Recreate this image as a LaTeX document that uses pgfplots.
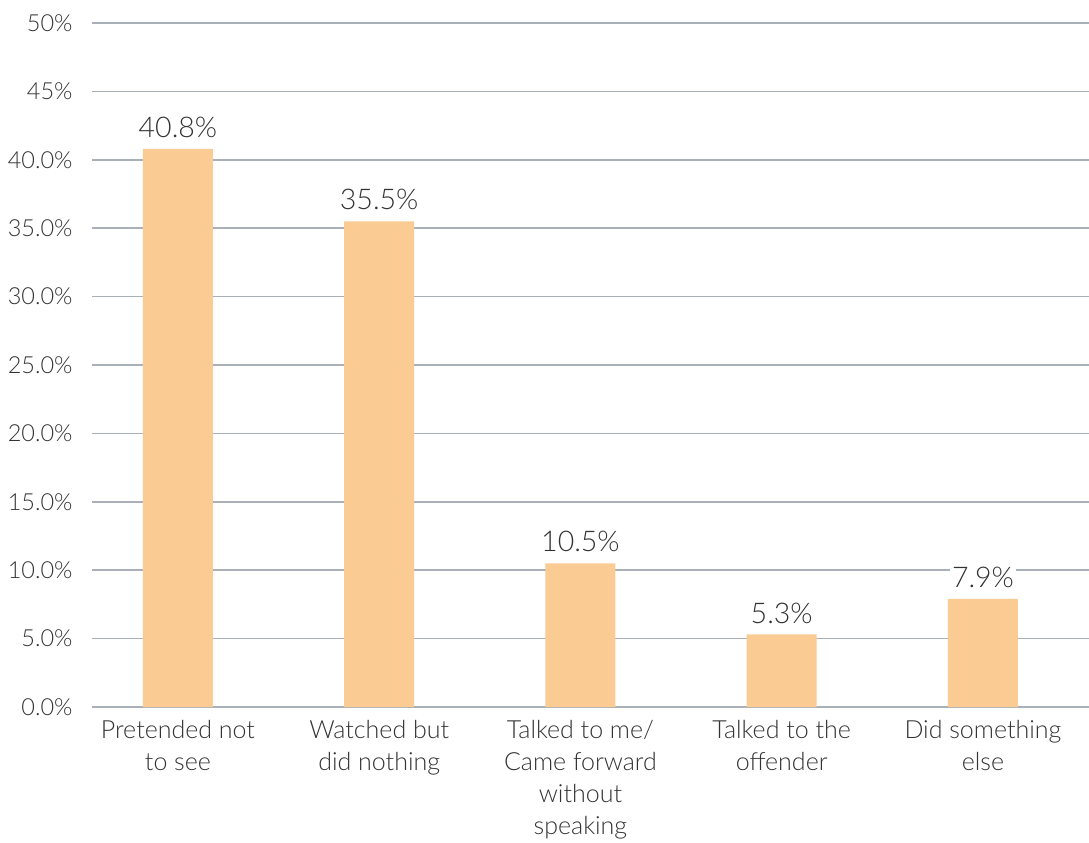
\documentclass[border=0pt]{standalone}
\usepackage{pgfplots}
\pgfplotsset{compat=1.18}
\usepackage{fontspec}
\setmainfont{Lato Light}
\definecolor{barfill}{HTML}{FBCB94}
\definecolor{gridgrey}{HTML}{A9B0B8}
\definecolor{txt}{HTML}{333333}
\begin{document}
\begin{tikzpicture}
\path[use as bounding box] (-92bp,-136bp) rectangle (997bp,707bp);
\begin{axis}[
  scale only axis,
  width=997bp, height=684bp,
  xmin=-0.427, xmax=4.527,
  ymin=0, ymax=50,
  ytick={0,5,...,50},
  yticklabels={0.0\%,5.0\%,10.0\%,15.0\%,20.0\%,25.0\%,30.0\%,35.0\%,40.0\%,45\%,50\%},
  xtick={0,1,2,3,4},
  xticklabels={Pretended not\\to see, Watched but\\did nothing, Talked to me/\\Came forward\\without\\speaking, Talked to the\\offender, Did something\\else},
  major tick length=0pt,
  axis line style={draw=none},
  ymajorgrids,
  grid style={gridgrey, line width=1.5bp},
  yticklabel style={font=\fontsize{23.5bp}{28bp}\selectfont, text=txt, anchor=east, xshift=-16bp},
  xticklabel style={font=\fontsize{25bp}{32bp}\selectfont, text=txt, align=center, anchor=north, yshift=-10bp},
  /pgf/number format/assume math mode=true,
  ybar, bar width=70bp,
  nodes near coords={\pgfmathprintnumber[fixed,fixed zerofill,precision=1]{\pgfplotspointmeta}\%},
  nodes near coords style={font=\fontsize{28.5bp}{32bp}\selectfont, text=txt, fill=white, inner sep=2bp, yshift=9bp},
  clip=false,
]
\addplot[fill=barfill, draw=none] coordinates {(0,40.8) (1,35.5) (2,10.5) (3,5.3) (4,7.9)};
\end{axis}
\end{tikzpicture}
\end{document}
